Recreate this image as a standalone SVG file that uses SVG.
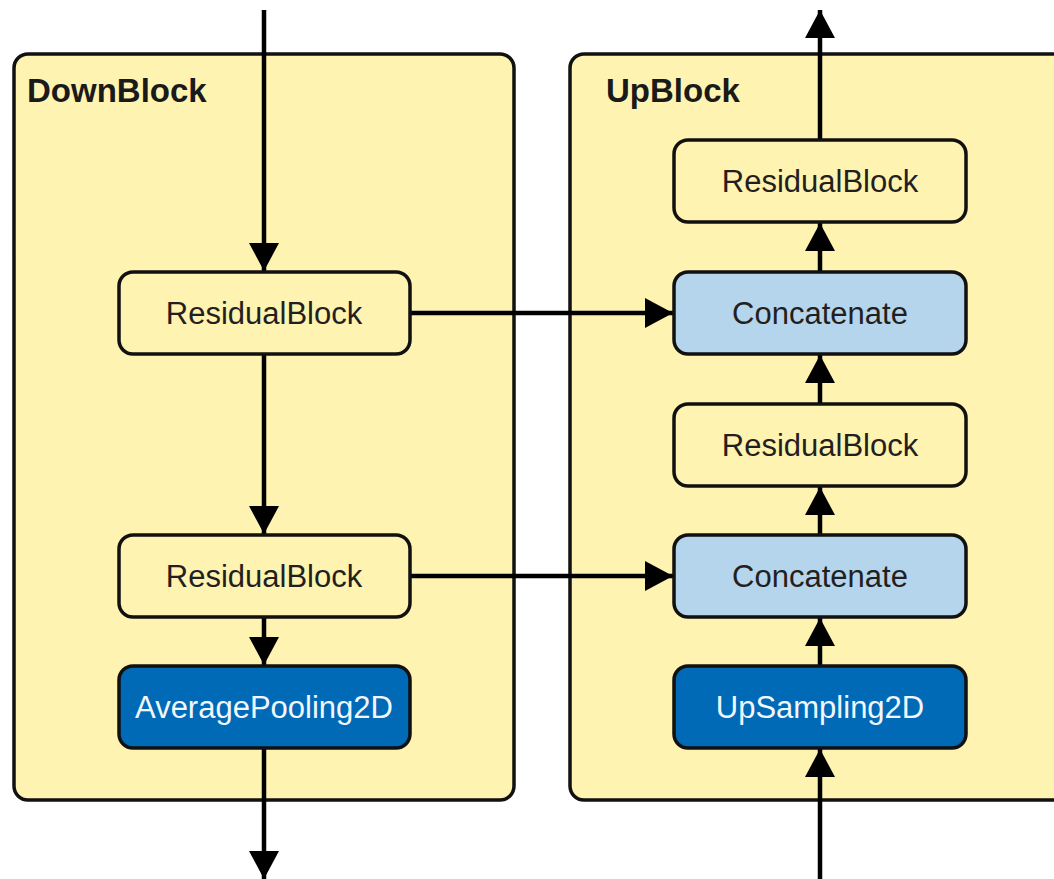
<svg xmlns="http://www.w3.org/2000/svg" width="1054" height="879" viewBox="0 0 1054 879">
<defs>
<marker id="ah" markerUnits="userSpaceOnUse" markerWidth="32" markerHeight="30" refX="28" refY="15" orient="auto">
<path d="M0,0 L28,15 L0,30 Z" fill="#000"/>
</marker>
<style>
.cont{fill:#FEF3B1;stroke:#111;stroke-width:3.5}
.node{stroke:#111;stroke-width:3.5}
.y{fill:#FEF3B1}
.lb{fill:#B4D5EB}
.db{fill:#006AB6}
.t{font-family:"Liberation Sans",Arial,sans-serif;font-size:31px;text-anchor:middle;fill:#231F20}
.w{fill:#F2F7FC}
.title{font-family:"Liberation Sans",Arial,sans-serif;font-size:33px;font-weight:bold;fill:#1a1a1a}
.c{stroke:#000;stroke-width:4.5;fill:none;marker-end:url(#ah)}
</style>
</defs>
<rect width="1054" height="879" fill="#fff"/>
<g id="downblock">
<rect class="cont" x="14" y="54" width="500" height="746" rx="14"/>
<text class="title" x="27" y="102">DownBlock</text>
</g>
<g id="upblock">
<rect class="cont" x="570" y="54" width="520" height="746" rx="14"/>
<text class="title" x="606" y="102">UpBlock</text>
</g>
<g id="connectors">
<line class="c" x1="264" y1="10" x2="264" y2="271"/>
<line class="c" x1="264" y1="354" x2="264" y2="534"/>
<line class="c" x1="264" y1="617" x2="264" y2="665"/>
<line class="c" x1="264" y1="748" x2="264" y2="879"/>
<line class="c" x1="410" y1="313" x2="673" y2="313"/>
<line class="c" x1="410" y1="576" x2="673" y2="576"/>
<line class="c" x1="820" y1="879" x2="820" y2="749"/>
<line class="c" x1="820" y1="666" x2="820" y2="618"/>
<line class="c" x1="820" y1="535" x2="820" y2="487"/>
<line class="c" x1="820" y1="404" x2="820" y2="355"/>
<line class="c" x1="820" y1="272" x2="820" y2="223"/>
<line class="c" x1="820" y1="140" x2="820" y2="10"/>
</g>
<g id="down_res1">
<rect class="node y" x="119" y="272" width="291" height="82" rx="14"/>
<text class="t" x="264" y="324">ResidualBlock</text>
</g>
<g id="down_res2">
<rect class="node y" x="119" y="535" width="291" height="82" rx="14"/>
<text class="t" x="264" y="587">ResidualBlock</text>
</g>
<g id="avgpool">
<rect class="node db" x="119" y="666" width="291" height="82" rx="14"/>
<text class="t w" x="264" y="718">AveragePooling2D</text>
</g>
<g id="up_res_top">
<rect class="node y" x="674" y="140" width="292" height="82" rx="14"/>
<text class="t" x="820" y="192">ResidualBlock</text>
</g>
<g id="concat1">
<rect class="node lb" x="674" y="272" width="292" height="82" rx="14"/>
<text class="t" x="820" y="324">Concatenate</text>
</g>
<g id="up_res_mid">
<rect class="node y" x="674" y="404" width="292" height="82" rx="14"/>
<text class="t" x="820" y="456">ResidualBlock</text>
</g>
<g id="concat2">
<rect class="node lb" x="674" y="535" width="292" height="82" rx="14"/>
<text class="t" x="820" y="587">Concatenate</text>
</g>
<g id="upsample">
<rect class="node db" x="674" y="666" width="292" height="82" rx="14"/>
<text class="t w" x="820" y="718">UpSampling2D</text>
</g>
</svg>
